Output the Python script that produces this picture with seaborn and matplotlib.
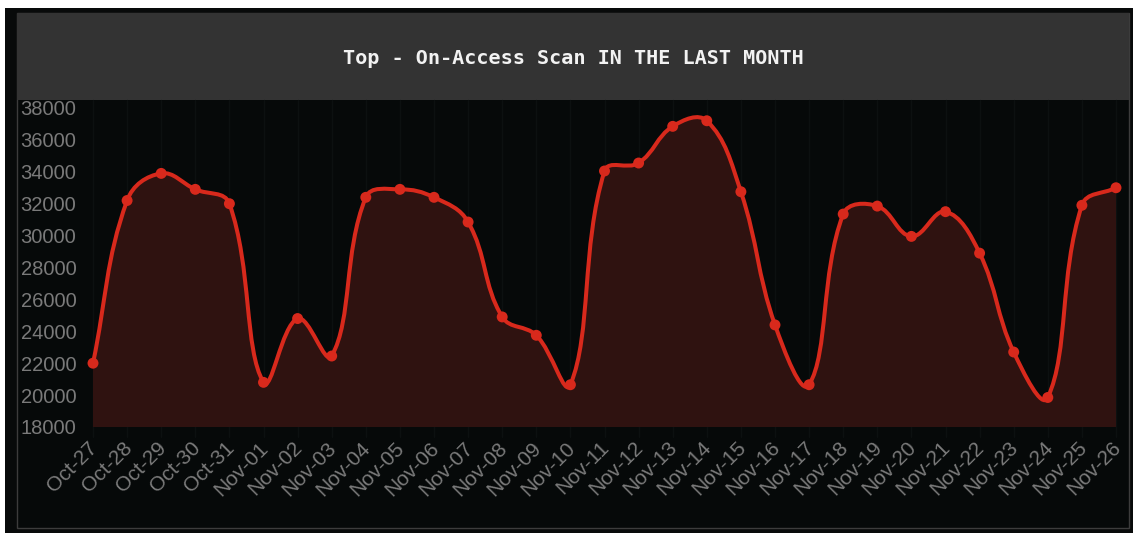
import matplotlib
matplotlib.use('Agg')
import matplotlib.pyplot as plt
from matplotlib.path import Path
from matplotlib.patches import PathPatch, Rectangle
import matplotlib.transforms as mtransforms
import numpy as np
import pandas as pd
import seaborn as sns

# values
days = ['Oct-27', 'Oct-28', 'Oct-29', 'Oct-30', 'Oct-31',
        'Nov-01', 'Nov-02', 'Nov-03', 'Nov-04', 'Nov-05', 'Nov-06', 'Nov-07',
        'Nov-08', 'Nov-09', 'Nov-10', 'Nov-11', 'Nov-12', 'Nov-13', 'Nov-14',
        'Nov-15', 'Nov-16', 'Nov-17', 'Nov-18', 'Nov-19', 'Nov-20', 'Nov-21',
        'Nov-22', 'Nov-23', 'Nov-24', 'Nov-25', 'Nov-26']
scans = [22000, 32200, 33900, 32900, 32000,
         20800, 24800, 22450, 32400, 32900, 32400, 30850,
         24900, 23750, 20650, 34050, 34550, 36850, 37200,
         32750, 24400, 20650, 31350, 31850, 29950, 31500,
         28900, 22700, 19850, 31900, 33000]
yticks = [18000, 20000, 22000, 24000, 26000, 28000, 30000,
          32000, 34000, 36000, 38000]
title = 'Top - On-Access Scan IN THE LAST MONTH'

LINE = '#d8291c'
FILL = '#2f1210'
PANEL = '#060909'
HEADER = '#333333'
TICK = '#7a7a7a'

W, H = 1136, 533

sns.set_theme(style='dark')
plt.rcParams['font.family'] = ['Liberation Sans', 'DejaVu Sans']

df = pd.DataFrame({'day': days, 'scans': scans})
df['pos'] = np.arange(len(df))


def px_rect(x0, y0, x1, y1, **kw):
    # rectangle given in pixels from the top-left corner
    return Rectangle((x0 / W, 1 - y1 / H), (x1 - x0) / W, (y1 - y0) / H,
                     transform=fig.transFigure, **kw)


def smooth_path(ax, xs, ys, t=0.4):
    '''bezier curve through the points, same control points as chart.js tension'''
    pts = ax.transData.transform(np.column_stack([xs, ys]))
    n = len(pts)
    cp_in = np.zeros_like(pts)
    cp_out = np.zeros_like(pts)
    for i in range(n):
        prev, cur, nxt = pts[max(i - 1, 0)], pts[i], pts[min(i + 1, n - 1)]
        d01 = np.hypot(*(cur - prev))
        d12 = np.hypot(*(nxt - cur))
        tot = d01 + d12
        s01 = d01 / tot if tot else 0
        s12 = d12 / tot if tot else 0
        cp_in[i] = cur - t * s01 * (nxt - prev)
        cp_out[i] = cur + t * s12 * (nxt - prev)
    verts = [pts[0]]
    codes = [Path.MOVETO]
    for i in range(n - 1):
        verts += [cp_out[i], cp_in[i + 1], pts[i + 1]]
        codes += [Path.CURVE4] * 3
    verts = ax.transData.inverted().transform(np.array(verts))
    return verts, codes


fig = plt.figure(figsize=(W / 100, H / 100), dpi=100, facecolor='white')
fig.patches.append(px_rect(5, 8, 1133, 533, facecolor='#080a0a', edgecolor='none', zorder=-10))
fig.patches.append(px_rect(17, 13, 1129, 528, facecolor=PANEL, edgecolor='#3c3c3c', lw=1, zorder=-9))
fig.patches.append(px_rect(17, 13, 1129, 100, facecolor=HEADER, edgecolor='none', zorder=-8))
fig.text(573 / W, 1 - 59 / H, title, color='#f2f2f2', fontsize=14.5, fontweight='bold',
         family='DejaVu Sans Mono', ha='center', va='center')

ax = fig.add_axes([93 / W, 1 - 427 / H, (1116 - 93) / W, (427 - 108) / H])
ax.set_facecolor('none')
ax.set_xlim(0, len(days) - 1)
ax.set_ylim(yticks[0], yticks[-1])

for x in df['pos']:
    ax.axvline(x, ymin=-0.03, ymax=1.025, color='#0c1010', lw=1, clip_on=False, zorder=0)

verts, codes = smooth_path(ax, df['pos'].values, df['scans'].values)
fill_verts = np.vstack([verts, [[df['pos'].iloc[-1], yticks[0]], [0, yticks[0]], [0, yticks[0]]]])
fill_codes = codes + [Path.LINETO, Path.LINETO, Path.CLOSEPOLY]
ax.add_patch(PathPatch(Path(fill_verts, fill_codes), facecolor=FILL, edgecolor='none', zorder=1))
ax.add_patch(PathPatch(Path(verts, codes), facecolor='none', edgecolor=LINE, lw=2.9,
                       capstyle='round', joinstyle='round', zorder=3, clip_on=False))
sns.scatterplot(data=df, x='pos', y='scans', ax=ax, color=LINE, s=62, edgecolor='none',
                zorder=4, clip_on=False, legend=False)

ax.set_xticks(df['pos'])
ax.set_xticklabels(days, rotation=45, ha='right', rotation_mode='anchor')
ax.set_yticks(yticks)
ax.set_yticklabels([str(v) for v in yticks])
ax.tick_params(axis='both', length=0, colors=TICK)
ax.tick_params(axis='y', pad=12, labelsize=14.5)
ax.tick_params(axis='x', pad=8, labelsize=15)
# nudge the slanted date labels a few pixels left, like the original
shift = mtransforms.ScaledTranslation(-5 / 100, 0, fig.dpi_scale_trans)
for lbl in ax.get_xticklabels():
    lbl.set_transform(lbl.get_transform() + shift)
ax.set_xlabel('')
ax.set_ylabel('')
ax.grid(False)
for s in ax.spines.values():
    s.set_visible(False)

fig.savefig('out.png', dpi=100, facecolor='white')
